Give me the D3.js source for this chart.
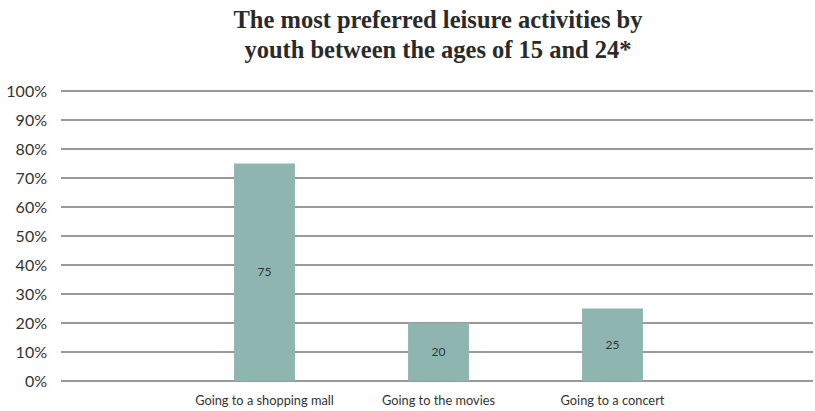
<!DOCTYPE html>
<html lang="en">
<head>
  <meta charset="UTF-8">
  <title>Leisure activities</title>
  <script src="https://d3js.org/d3.v7.min.js"></script>
  <style>
    body { margin: 0; background: #fff; }
    svg { font-family: Lato, "Open Sans", sans-serif; }
    .title { font-family: "Liberation Serif", serif; font-weight: bold; font-size: 24.5px; fill: #2a2a2a; }
    .grid line { stroke: #777; stroke-width: 1.4px; }
    .ylab { font-size: 16px; fill: #333; }
    .xlab { font-size: 12.8px; fill: #333; }
    .val { font-size: 12px; fill: #333; }
  </style>
</head>
<body>
  <svg id="chart"></svg>
  <script>
    // data
    const categories = ["Going to a shopping mall", "Going to the movies", "Going to a concert"];
    const values = [75, 20, 25];
    const yTicks = [0, 10, 20, 30, 40, 50, 60, 70, 80, 90, 100];
    const titleLines = ["The most preferred leisure activities by", "youth between the ages of 15 and 24*"];

    const width = 815, height = 411;
    const plotLeft = 61, plotRight = 813, plotTop = 91, plotBottom = 381;

    const svg = d3.select("#chart").attr("width", width).attr("height", height);

    const y = d3.scaleLinear().domain([0, 100]).range([plotBottom, plotTop]);
    const x = d3.scaleBand().domain(categories).range([177.5, 699.5])
      .paddingInner(0.65).paddingOuter(0.325);

    // title
    svg.selectAll(".title").data(titleLines).enter().append("text")
      .attr("class", "title")
      .attr("x", 438)
      .attr("y", (d, i) => 28 + i * 30)
      .attr("text-anchor", "middle")
      .text(d => d);

    // gridlines
    svg.append("g").attr("class", "grid")
      .selectAll("line").data(yTicks).enter().append("line")
      .attr("x1", plotLeft).attr("x2", plotRight)
      .attr("y1", d => y(d)).attr("y2", d => y(d));

    // y labels
    svg.selectAll(".ylab").data(yTicks).enter().append("text")
      .attr("class", "ylab")
      .attr("x", 47)
      .attr("y", d => y(d))
      .attr("dy", "0.35em")
      .attr("text-anchor", "end")
      .text(d => d + "%");

    // bars
    svg.selectAll(".bar").data(values).enter().append("rect")
      .attr("class", "bar")
      .attr("x", (d, i) => x(categories[i]))
      .attr("width", x.bandwidth())
      .attr("y", d => y(d))
      .attr("height", d => plotBottom - y(d))
      .attr("fill", "#8fb5b0");

    // value labels
    svg.selectAll(".val").data(values).enter().append("text")
      .attr("class", "val")
      .attr("x", (d, i) => x(categories[i]) + x.bandwidth() / 2)
      .attr("y", d => (y(d) + plotBottom) / 2)
      .attr("dy", "0.35em")
      .attr("text-anchor", "middle")
      .text(d => d);

    // category labels
    svg.selectAll(".xlab").data(categories).enter().append("text")
      .attr("class", "xlab")
      .attr("x", d => x(d) + x.bandwidth() / 2)
      .attr("y", 405)
      .attr("text-anchor", "middle")
      .text(d => d);
  </script>
</body>
</html>
